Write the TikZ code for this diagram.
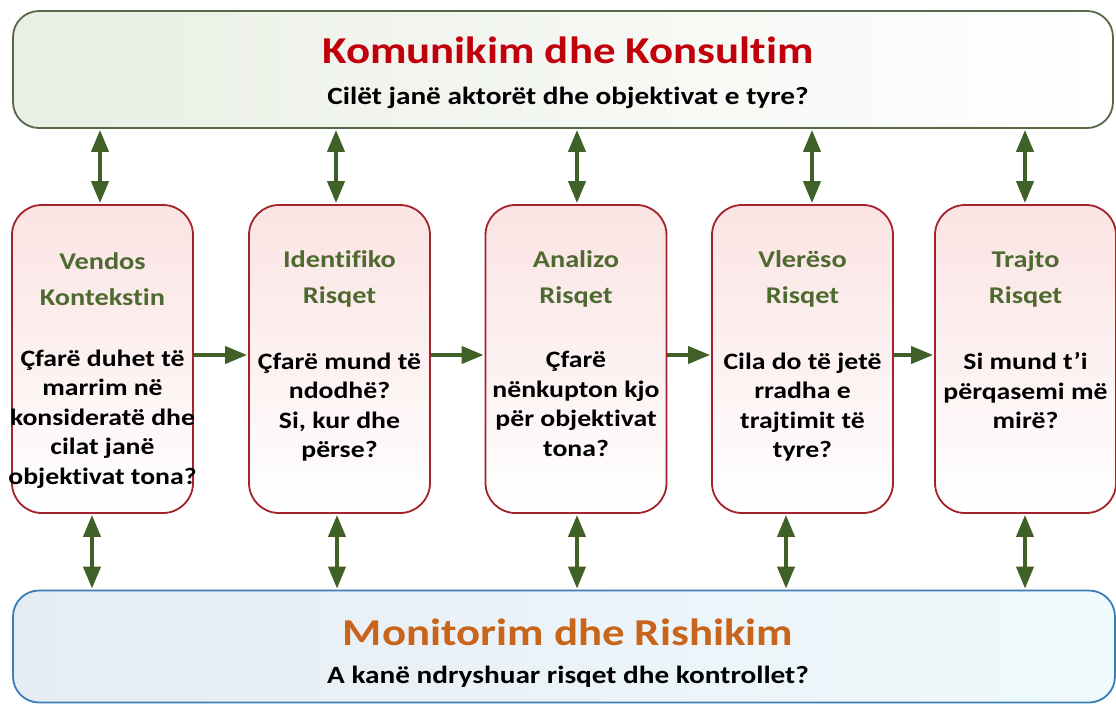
\documentclass[tikz,border=0pt]{standalone}
\usepackage{fontspec}
\setmainfont{Carlito}[FakeStretch=1.18,Ligatures=NoCommon]
\usetikzlibrary{arrows.meta,calc}
\definecolor{arrgreen}{HTML}{3F6127}
\definecolor{titgreen}{HTML}{4F6A30}
\definecolor{topred}{HTML}{C0000B}
\definecolor{botorange}{HTML}{C8651B}
\definecolor{topborder}{HTML}{56684A}
\definecolor{midborder}{HTML}{A3232B}
\definecolor{botborder}{HTML}{3C7DB5}
\definecolor{topfillL}{HTML}{E9EFE4}
\definecolor{botfillL}{HTML}{E6ECF4}
\definecolor{botfillR}{HTML}{EFFAFC}
\definecolor{midfillT}{HTML}{FBE3E3}
\begin{document}
\begin{tikzpicture}[x=1pt,y=-1pt,
  bigbox/.style={rounded corners=26pt,line width=1.8pt,minimum width=#1,inner sep=0pt},
  topbox/.style={bigbox=1100pt,minimum height=117pt,draw=topborder,left color=topfillL,right color=white},
  botbox/.style={bigbox=1102pt,minimum height=112pt,draw=botborder,left color=botfillL,right color=botfillR},
  stepbox/.style={rounded corners=30pt,line width=1.8pt,draw=midborder,minimum width=181pt,minimum height=308pt,top color=midfillT,bottom color=white,inner sep=0pt},
  ttl/.style={font=\fontsize{24}{36}\selectfont\bfseries,text=titgreen,align=center},
  bdy/.style={font=\fontsize{23.5}{29.5}\selectfont\bfseries,align=center,anchor=north},
  hd/.style={Triangle[length=22pt,width=17pt]},
  dbl/.style={arrgreen,line width=4pt,{Triangle[length=22pt,width=17pt]}-{Triangle[length=22pt,width=17pt]},shorten <=1pt,shorten >=1pt},
  one/.style={arrgreen,line width=4pt,-{Triangle[length=22pt,width=17pt]},shorten >=1pt}]
\useasboundingbox (0,0) rectangle (1116,705);
\fill[white] (0,0) rectangle (1116,705);
\node[topbox] (top) at (563,69.5) {};
\node[font=\fontsize{38}{44}\selectfont\bfseries,text=topred] (toptitle) at (568,50) {Komunikim dhe Konsultim};
\node[font=\fontsize{24.8}{28}\selectfont\bfseries] (topsub) at (568,98) {Cilët janë aktorët dhe objektivat e tyre?};
\node[botbox] (bot) at (564,646.5) {};
\node[font=\fontsize{38}{44}\selectfont\bfseries,text=botorange] (bottitle) at (568,632) {Monitorim dhe Rishikim};
\node[font=\fontsize{24.8}{28}\selectfont\bfseries] (botsub) at (568,677) {A kanë ndryshuar risqet dhe kontrollet?};
\node[stepbox] (b1) at (102.5,359) {};
\node[stepbox] (b2) at (339.5,359) {};
\node[stepbox] (b3) at (576,359) {};
\node[stepbox] (b4) at (802.5,359) {};
\node[stepbox] (b5) at (1025.5,359) {};
\node[ttl] (t1) at (102.5,279) {Vendos\\Kontekstin};
\node[ttl] (t2) at (339.5,279) {Identifiko\\Risqet};
\node[ttl] (t3) at (576,279) {Analizo\\Risqet};
\node[ttl] (t4) at (802.5,279) {Vlerëso\\Risqet};
\node[ttl] (t5) at (1025.5,279) {Trajto\\Risqet};
\node[bdy] (d1) at (102.5,346) {Çfarë duhet të\\marrim në\\konsideratë dhe\\cilat janë\\objektivat tona?};
\node[bdy] (d2) at (339.5,349) {Çfarë mund të\\ndodhë?\\Si, kur dhe\\përse?};
\node[bdy] (d3) at (576,348) {Çfarë\\nënkupton kjo\\për objektivat\\tona?};
\node[bdy] (d4) at (802.5,349) {Cila do të jetë\\rradha e\\trajtimit të\\tyre?};
\node[bdy] (d5) at (1025.5,349) {Si mund t’i\\përqasemi më\\mirë?};
\draw[one] (b1.east |- 0,355) -- (b2.west |- 0,355);
\draw[one] (b2.east |- 0,355) -- (b3.west |- 0,355);
\draw[one] (b3.east |- 0,355) -- (b4.west |- 0,355);
\draw[one] (b4.east |- 0,355) -- (b5.west |- 0,355);
\draw[dbl] (top.south -| 100,0) -- (b1.north -| 100,0);
\draw[dbl] (top.south -| 336,0) -- (b2.north -| 336,0);
\draw[dbl] (top.south -| 577,0) -- (b3.north -| 577,0);
\draw[dbl] (top.south -| 812,0) -- (b4.north -| 812,0);
\draw[dbl] (top.south -| 1025,0) -- (b5.north -| 1025,0);
\draw[dbl] (b1.south -| 92,0) -- (bot.north -| 92,0);
\draw[dbl] (b2.south -| 337,0) -- (bot.north -| 337,0);
\draw[dbl] (b3.south -| 577,0) -- (bot.north -| 577,0);
\draw[dbl] (b4.south -| 786,0) -- (bot.north -| 786,0);
\draw[dbl] (b5.south -| 1025,0) -- (bot.north -| 1025,0);
\end{tikzpicture}
\end{document}
